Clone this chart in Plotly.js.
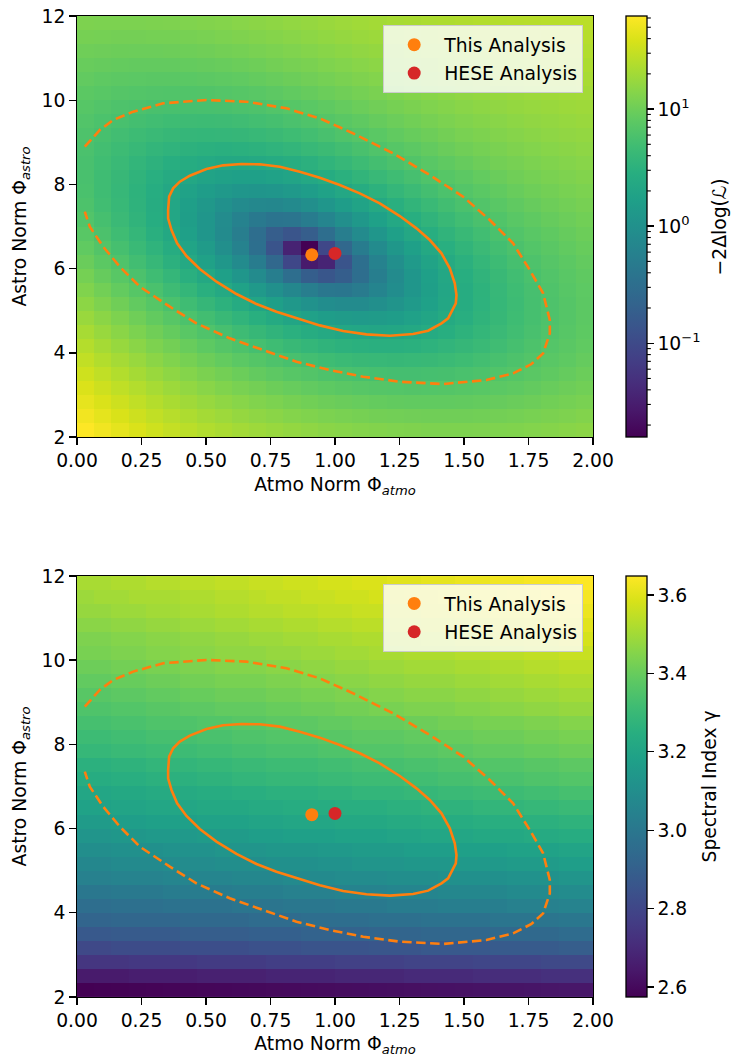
<!DOCTYPE html>
<html><head><meta charset="utf-8">
<script src="https://cdn.plot.ly/plotly-3.0.1.min.js"></script>
<style>html,body{margin:0;padding:0;background:#fff;} #chart{width:732px;height:1057px;}</style>
</head><body><div id="chart"></div>
<script>
// cell centres of the 30 x 30 scan grid
const atmoCenters = [0.0333,0.1,0.1667,0.2333,0.3,0.3667,0.4333,0.5,0.5667,0.6333,0.7,0.7667,0.8333,0.9,0.9667,1.0333,1.1,1.1667,1.2333,1.3,1.3667,1.4333,1.5,1.5667,1.6333,1.7,1.7667,1.8333,1.9,1.9667];
const astroCenters = [2.1667,2.5,2.8333,3.1667,3.5,3.8333,4.1667,4.5,4.8333,5.1667,5.5,5.8333,6.1667,6.5,6.8333,7.1667,7.5,7.8333,8.1667,8.5,8.8333,9.1667,9.5,9.8333,10.1667,10.5,10.8333,11.1667,11.5,11.8333];

// -2 Delta log(L), rows = astro (bottom to top), cols = atmo (left to right)
const llh = [
[62.5,53.1,45.4,39.2,34.1,30.0,26.7,24.0,21.9,20.1,18.6,17.4,16.3,15.5,14.7,14.1,13.6,13.2,12.8,12.6,12.4,12.4,12.4,12.5,12.7,12.9,13.3,13.7,14.3,14.8],
[53.9,45.7,39.0,33.6,29.2,25.6,22.8,20.4,18.5,16.9,15.6,14.6,13.6,12.9,12.2,11.7,11.2,10.8,10.6,10.4,10.3,10.3,10.3,10.5,10.7,11.1,11.5,12.0,12.5,13.2],
[46.3,39.2,33.4,28.7,24.9,21.8,19.3,17.2,15.6,14.2,13.0,12.1,11.2,10.5,9.95,9.47,9.08,8.78,8.56,8.43,8.39,8.43,8.56,8.77,9.07,9.46,9.92,10.5,11.1,11.7],
[39.7,33.5,28.5,24.4,21.1,18.4,16.2,14.4,12.9,11.7,10.7,9.83,9.09,8.48,7.96,7.54,7.21,6.96,6.80,6.73,6.75,6.85,7.03,7.30,7.66,8.10,8.61,9.19,9.84,10.5],
[34.0,28.6,24.2,20.6,17.8,15.4,13.5,12.0,10.7,9.57,8.65,7.88,7.22,6.67,6.22,5.86,5.58,5.40,5.30,5.28,5.35,5.51,5.76,6.08,6.49,6.98,7.54,8.17,8.86,9.60],
[29.0,24.3,20.5,17.4,14.9,12.9,11.2,9.82,8.66,7.69,6.87,6.18,5.59,5.11,4.72,4.42,4.20,4.07,4.03,4.07,4.20,4.41,4.71,5.10,5.56,6.10,6.71,7.37,8.10,8.86],
[24.7,20.6,17.3,14.6,12.4,10.7,9.19,7.96,6.93,6.06,5.33,4.71,4.20,3.77,3.44,3.20,3.04,2.97,2.98,3.08,3.27,3.54,3.90,4.33,4.85,5.43,6.08,6.79,7.54,8.33],
[21.0,17.4,14.6,12.2,10.3,8.76,7.46,6.37,5.45,4.68,4.02,3.47,3.02,2.66,2.39,2.20,2.10,2.08,2.15,2.31,2.56,2.88,3.29,3.78,4.34,4.97,5.66,6.40,7.18,7.98],
[17.8,14.8,12.3,10.2,8.54,7.15,6.00,5.03,4.21,3.51,2.93,2.45,2.05,1.75,1.54,1.41,1.36,1.41,1.54,1.75,2.05,2.43,2.90,3.43,4.04,4.71,5.43,6.20,6.99,7.81],
[15.1,12.5,10.3,8.50,7.03,5.80,4.78,3.91,3.17,2.56,2.04,1.62,1.29,1.04,0.883,0.812,0.826,0.927,1.11,1.38,1.74,2.18,2.69,3.27,3.92,4.63,5.38,6.17,6.98,7.80],
[12.9,10.6,8.66,7.09,5.78,4.69,3.78,3.00,2.35,1.80,1.34,0.983,0.710,0.523,0.422,0.407,0.479,0.638,0.881,1.21,1.62,2.11,2.67,3.30,3.98,4.72,5.50,6.30,7.12,7.94],
[11.0,8.99,7.32,5.93,4.78,3.81,2.99,2.29,1.71,1.22,0.833,0.530,0.314,0.185,0.142,0.185,0.314,0.529,0.829,1.21,1.67,2.21,2.82,3.49,4.21,4.98,5.77,6.59,7.41,8.22],
[9.50,7.71,6.24,5.01,3.98,3.12,2.38,1.76,1.25,0.825,0.494,0.250,0.0915,0.028,0.036,0.135,0.321,0.593,0.948,1.38,1.90,2.48,3.13,3.84,4.59,5.38,6.19,7.01,7.83,8.63],
[8.27,6.70,5.40,4.31,3.39,2.62,1.96,1.41,0.958,0.596,0.323,0.136,0.0351,0.0158,0.0925,0.251,0.494,0.822,1.23,1.72,2.28,2.91,3.60,4.34,5.11,5.92,6.74,7.56,8.37,9.16],
[7.31,5.93,4.77,3.80,2.98,2.29,1.70,1.22,0.828,0.525,0.309,0.180,0.137,0.180,0.309,0.524,0.824,1.21,1.67,2.21,2.81,3.48,4.21,4.97,5.77,6.58,7.40,8.22,9.02,9.79],
[6.59,5.37,4.34,3.47,2.74,2.12,1.60,1.18,0.849,0.605,0.447,0.375,0.390,0.490,0.676,0.948,1.30,1.74,2.25,2.84,3.49,4.19,4.95,5.73,6.54,7.36,8.18,8.99,9.77,10.5],
[6.09,5.00,4.08,3.31,2.65,2.10,1.65,1.29,1.02,0.830,0.729,0.714,0.786,0.945,1.19,1.52,1.92,2.41,2.97,3.60,4.29,5.03,5.81,6.61,7.43,8.25,9.06,9.85,10.6,11.3],
[5.78,4.81,3.99,3.30,2.72,2.23,1.84,1.54,1.32,1.19,1.15,1.19,1.32,1.54,1.84,2.22,2.68,3.22,3.83,4.50,5.22,5.98,6.78,7.60,8.42,9.23,10.0,10.8,11.5,12.2],
[5.65,4.78,4.05,3.43,2.91,2.49,2.16,1.92,1.76,1.68,1.70,1.80,1.99,2.26,2.61,3.05,3.56,4.15,4.80,5.50,6.26,7.04,7.85,8.67,9.49,10.3,11.1,11.8,12.5,13.2],
[5.67,4.90,4.24,3.69,3.24,2.88,2.61,2.42,2.32,2.30,2.37,2.53,2.78,3.10,3.51,4.00,4.56,5.19,5.88,6.62,7.40,8.20,9.02,9.84,10.7,11.4,12.2,12.9,13.6,14.2],
[5.84,5.15,4.56,4.08,3.69,3.39,3.17,3.04,3.00,3.04,3.17,3.38,3.68,4.07,4.53,5.07,5.68,6.34,7.07,7.83,8.63,9.44,10.3,11.1,11.9,12.6,13.4,14.1,14.7,15.3],
[6.14,5.52,5.01,4.58,4.25,4.01,3.85,3.78,3.79,3.89,4.08,4.35,4.71,5.14,5.66,6.24,6.89,7.60,8.35,9.14,9.95,10.8,11.6,12.4,13.2,13.9,14.6,15.3,15.9,16.4],
[6.56,6.01,5.56,5.20,4.93,4.74,4.64,4.62,4.70,4.85,5.10,5.43,5.83,6.32,6.88,7.51,8.20,8.94,9.72,10.5,11.3,12.2,13.0,13.8,14.5,15.2,15.9,16.5,17.1,17.6],
[7.10,6.61,6.22,5.92,5.70,5.57,5.53,5.57,5.70,5.92,6.22,6.60,7.06,7.60,8.21,8.88,9.60,10.4,11.2,12.0,12.8,13.6,14.4,15.2,15.9,16.6,17.2,17.8,18.3,18.8],
[7.73,7.31,6.98,6.74,6.58,6.50,6.52,6.62,6.81,7.08,7.43,7.87,8.38,8.97,9.62,10.3,11.1,11.9,12.7,13.5,14.3,15.1,15.9,16.6,17.3,18.0,18.6,19.1,19.6,20.0],
[8.47,8.11,7.83,7.65,7.55,7.53,7.60,7.76,8.01,8.33,8.74,9.23,9.79,10.4,11.1,11.8,12.6,13.4,14.2,15.1,15.9,16.7,17.4,18.1,18.8,19.4,20.0,20.5,20.9,21.3],
[9.29,8.99,8.77,8.65,8.60,8.65,8.77,8.99,9.29,9.67,10.1,10.7,11.3,11.9,12.7,13.4,14.2,15.0,15.9,16.7,17.5,18.3,19.0,19.7,20.3,20.9,21.4,21.9,22.3,22.6],
[10.2,9.97,9.81,9.74,9.75,9.85,10.0,10.3,10.7,11.1,11.6,12.2,12.8,13.6,14.3,15.1,15.9,16.7,17.5,18.3,19.1,19.9,20.6,21.2,21.8,22.4,22.8,23.3,23.6,23.9],
[11.2,11.0,10.9,10.9,11.0,11.1,11.4,11.7,12.1,12.6,13.2,13.8,14.5,15.2,16.0,16.8,17.6,18.4,19.3,20.0,20.8,21.5,22.2,22.8,23.4,23.9,24.3,24.7,25.0,25.3],
[12.3,12.1,12.1,12.1,12.3,12.5,12.8,13.2,13.6,14.2,14.8,15.4,16.2,16.9,17.7,18.5,19.4,20.2,21.0,21.8,22.5,23.2,23.8,24.4,24.9,25.4,25.8,26.1,26.4,26.6]
];

// profiled spectral index gamma on the same grid
const gammaIdx = [
[2.575,2.577,2.579,2.582,2.584,2.586,2.588,2.591,2.593,2.595,2.597,2.600,2.602,2.604,2.606,2.609,2.611,2.613,2.615,2.618,2.620,2.622,2.624,2.627,2.629,2.631,2.633,2.636,2.638,2.640],
[2.65,2.65,2.65,2.66,2.66,2.66,2.66,2.67,2.67,2.67,2.67,2.68,2.68,2.68,2.68,2.69,2.69,2.69,2.69,2.70,2.70,2.70,2.70,2.71,2.71,2.71,2.71,2.72,2.72,2.72],
[2.74,2.74,2.74,2.75,2.75,2.75,2.75,2.76,2.76,2.76,2.76,2.77,2.77,2.77,2.77,2.78,2.78,2.78,2.78,2.79,2.79,2.79,2.79,2.80,2.80,2.80,2.80,2.81,2.81,2.81],
[2.81,2.81,2.82,2.82,2.82,2.82,2.83,2.83,2.83,2.83,2.84,2.84,2.84,2.85,2.85,2.85,2.85,2.86,2.86,2.86,2.87,2.87,2.87,2.87,2.88,2.88,2.88,2.88,2.89,2.89],
[2.87,2.87,2.88,2.88,2.88,2.88,2.89,2.89,2.89,2.89,2.90,2.90,2.90,2.91,2.91,2.91,2.91,2.92,2.92,2.92,2.93,2.93,2.93,2.93,2.94,2.94,2.94,2.94,2.95,2.95],
[2.92,2.92,2.93,2.93,2.93,2.93,2.94,2.94,2.94,2.94,2.95,2.95,2.95,2.96,2.96,2.96,2.96,2.97,2.97,2.97,2.98,2.98,2.98,2.98,2.99,2.99,2.99,2.99,3.00,3.00],
[2.96,2.96,2.97,2.97,2.97,2.98,2.98,2.98,2.98,2.99,2.99,2.99,3.00,3.00,3.00,3.01,3.01,3.01,3.02,3.02,3.02,3.03,3.03,3.03,3.03,3.04,3.04,3.04,3.05,3.05],
[3.00,3.00,3.01,3.01,3.01,3.02,3.02,3.02,3.02,3.03,3.03,3.03,3.04,3.04,3.04,3.05,3.05,3.05,3.06,3.06,3.06,3.07,3.07,3.07,3.07,3.08,3.08,3.08,3.09,3.09],
[3.04,3.04,3.05,3.05,3.05,3.06,3.06,3.06,3.06,3.07,3.07,3.07,3.08,3.08,3.08,3.09,3.09,3.09,3.10,3.10,3.10,3.11,3.11,3.11,3.11,3.12,3.12,3.12,3.13,3.13],
[3.07,3.07,3.08,3.08,3.08,3.09,3.09,3.09,3.10,3.10,3.10,3.11,3.11,3.11,3.12,3.12,3.13,3.13,3.13,3.14,3.14,3.14,3.15,3.15,3.15,3.16,3.16,3.16,3.17,3.17],
[3.10,3.10,3.11,3.11,3.11,3.12,3.12,3.12,3.13,3.13,3.13,3.14,3.14,3.14,3.15,3.15,3.16,3.16,3.16,3.17,3.17,3.17,3.18,3.18,3.18,3.19,3.19,3.19,3.20,3.20],
[3.13,3.13,3.14,3.14,3.15,3.15,3.15,3.16,3.16,3.16,3.17,3.17,3.18,3.18,3.18,3.19,3.19,3.19,3.20,3.20,3.21,3.21,3.21,3.22,3.22,3.22,3.23,3.23,3.24,3.24],
[3.16,3.16,3.17,3.17,3.18,3.18,3.18,3.19,3.19,3.19,3.20,3.20,3.21,3.21,3.21,3.22,3.22,3.22,3.23,3.23,3.24,3.24,3.24,3.25,3.25,3.25,3.26,3.26,3.27,3.27],
[3.19,3.19,3.20,3.20,3.21,3.21,3.21,3.22,3.22,3.22,3.23,3.23,3.24,3.24,3.24,3.25,3.25,3.25,3.26,3.26,3.27,3.27,3.27,3.28,3.28,3.28,3.29,3.29,3.30,3.30],
[3.21,3.21,3.22,3.22,3.23,3.23,3.23,3.24,3.24,3.25,3.25,3.26,3.26,3.26,3.27,3.27,3.28,3.28,3.28,3.29,3.29,3.30,3.30,3.31,3.31,3.31,3.32,3.32,3.33,3.33],
[3.24,3.24,3.25,3.25,3.26,3.26,3.26,3.27,3.27,3.28,3.28,3.29,3.29,3.29,3.30,3.30,3.31,3.31,3.31,3.32,3.32,3.33,3.33,3.34,3.34,3.34,3.35,3.35,3.36,3.36],
[3.26,3.26,3.27,3.27,3.28,3.28,3.28,3.29,3.29,3.30,3.30,3.31,3.31,3.31,3.32,3.32,3.33,3.33,3.33,3.34,3.34,3.35,3.35,3.36,3.36,3.36,3.37,3.37,3.38,3.38],
[3.29,3.29,3.30,3.30,3.31,3.31,3.31,3.32,3.32,3.33,3.33,3.34,3.34,3.34,3.35,3.35,3.36,3.36,3.36,3.37,3.37,3.38,3.38,3.39,3.39,3.39,3.40,3.40,3.41,3.41],
[3.31,3.31,3.32,3.32,3.33,3.33,3.33,3.34,3.34,3.35,3.35,3.36,3.36,3.36,3.37,3.37,3.38,3.38,3.38,3.39,3.39,3.40,3.40,3.41,3.41,3.41,3.42,3.42,3.43,3.43],
[3.33,3.33,3.34,3.34,3.35,3.35,3.35,3.36,3.36,3.37,3.37,3.38,3.38,3.38,3.39,3.39,3.40,3.40,3.40,3.41,3.41,3.42,3.42,3.43,3.43,3.43,3.44,3.44,3.45,3.45],
[3.35,3.35,3.36,3.36,3.37,3.37,3.38,3.38,3.39,3.39,3.39,3.40,3.40,3.41,3.41,3.42,3.42,3.43,3.43,3.44,3.44,3.44,3.45,3.45,3.46,3.46,3.47,3.47,3.48,3.48],
[3.37,3.37,3.38,3.38,3.39,3.39,3.40,3.40,3.41,3.41,3.41,3.42,3.42,3.43,3.43,3.44,3.44,3.45,3.45,3.46,3.46,3.46,3.47,3.47,3.48,3.48,3.49,3.49,3.50,3.50],
[3.39,3.39,3.40,3.40,3.41,3.41,3.42,3.42,3.43,3.43,3.43,3.44,3.44,3.45,3.45,3.46,3.46,3.47,3.47,3.48,3.48,3.48,3.49,3.49,3.50,3.50,3.51,3.51,3.52,3.52],
[3.41,3.41,3.42,3.42,3.43,3.43,3.44,3.44,3.45,3.45,3.45,3.46,3.46,3.47,3.47,3.48,3.48,3.49,3.49,3.50,3.50,3.50,3.51,3.51,3.52,3.52,3.53,3.53,3.54,3.54],
[3.43,3.43,3.44,3.44,3.45,3.45,3.46,3.46,3.47,3.47,3.47,3.48,3.48,3.49,3.49,3.50,3.50,3.51,3.51,3.52,3.52,3.52,3.53,3.53,3.54,3.54,3.55,3.55,3.56,3.56],
[3.44,3.44,3.45,3.45,3.46,3.46,3.47,3.47,3.48,3.48,3.49,3.49,3.50,3.50,3.51,3.51,3.52,3.52,3.53,3.53,3.54,3.54,3.55,3.55,3.56,3.56,3.57,3.57,3.58,3.58],
[3.46,3.46,3.47,3.47,3.48,3.48,3.49,3.49,3.50,3.50,3.51,3.51,3.52,3.52,3.53,3.53,3.54,3.54,3.55,3.55,3.56,3.56,3.57,3.57,3.58,3.58,3.59,3.59,3.60,3.60],
[3.48,3.48,3.49,3.49,3.50,3.50,3.51,3.51,3.52,3.52,3.53,3.53,3.54,3.54,3.55,3.55,3.56,3.56,3.57,3.57,3.58,3.58,3.59,3.59,3.60,3.60,3.61,3.61,3.62,3.62],
[3.49,3.50,3.50,3.51,3.51,3.51,3.52,3.52,3.53,3.53,3.54,3.55,3.55,3.56,3.56,3.57,3.57,3.58,3.58,3.59,3.59,3.60,3.60,3.61,3.61,3.62,3.62,3.63,3.63,3.635],
[3.51,3.51,3.52,3.52,3.53,3.53,3.54,3.54,3.55,3.55,3.56,3.56,3.57,3.57,3.58,3.58,3.59,3.59,3.60,3.60,3.61,3.61,3.62,3.62,3.63,3.63,3.64,3.64,3.645,3.648]
];

// 1 sigma (solid) and 2 sigma (dashed) contours
const sig1X = [0.3532,0.3571,0.3726,0.3984,0.4372,0.5018,0.5664,0.6375,0.7085,0.7860,0.8636,0.9411,1.0186,1.0961,1.1736,1.2512,1.3158,1.3674,1.4127,1.4450,1.4643,1.4708,1.4682,1.4385,1.4127,1.3610,1.3028,1.2124,1.1220,1.0315,0.9411,0.8506,0.7731,0.6956,0.6181,0.5406,0.4760,0.4243,0.3881,0.3662,0.3532,0.3532];
const sig1Y = [7.392,7.709,7.907,8.065,8.207,8.366,8.453,8.485,8.477,8.421,8.302,8.160,7.986,7.788,7.550,7.249,6.956,6.679,6.363,6.006,5.650,5.373,5.175,4.819,4.700,4.526,4.447,4.407,4.439,4.518,4.652,4.819,4.977,5.159,5.397,5.690,5.990,6.299,6.600,6.917,7.194,7.392];
const sig2X = [0.0302,0.0884,0.1401,0.2176,0.3339,0.5018,0.6568,0.8119,0.9411,1.0703,1.2253,1.3674,1.4966,1.6000,1.6904,1.7550,1.8067,1.8326,1.8326,1.8067,1.7615,1.6904,1.5871,1.4191,1.2512,1.1090,0.9798,0.8506,0.7214,0.5922,0.4630,0.3597,0.2434,0.1659,0.1013,0.0496,0.0302];
const sig2Y = [8.896,9.292,9.530,9.728,9.926,10.005,9.965,9.807,9.569,9.213,8.738,8.223,7.709,7.154,6.600,5.967,5.413,4.779,4.462,3.987,3.734,3.512,3.354,3.259,3.314,3.433,3.591,3.789,4.067,4.344,4.700,5.096,5.571,6.046,6.521,6.996,7.352];

// best-fit points
const thisFit = {name: 'This Analysis', atmo: [0.91], astro: [6.33], color: '#ff7f0e'};
const heseFit = {name: 'HESE Analysis', atmo: [1.0], astro: [6.36], color: '#d62728'};

// colour bar ticks
const llhRange = [0.0158, 62.4];
const llhMajor = [0.1, 1, 10];
const llhMajorText = ['10<sup>\u22121</sup>', '10<sup>0</sup>', '10<sup>1</sup>'];
const llhMinorMult = [2,3,4,5,6,7,8,9];
const llhMinorDecades = [0.01, 0.1, 1, 10];
const gammaRange = [2.5745, 3.6485];
const gammaTicks = [2.6, 2.8, 3.0, 3.2, 3.4, 3.6];

const FONT = 'DejaVu Sans';
const FS = 18.75;
const ORANGE = '#ff7f0e';

const topDomain = [0.5708, 1.0];
const botDomain = [0.0, 0.4292];
const CB_X = 1.064;          // colour bar left edge (paper)
const CB_RIGHT = 1.1047;     // colour bar right edge (paper)

const logLLH = llh.map(r => r.map(v => Math.log10(v)));
const lmin = Math.log10(llhRange[0]), lmax = Math.log10(llhRange[1]);

// minor ticks of the log colour bar, drawn as short shapes
const shapes = [];
llhMinorDecades.forEach(d => llhMinorMult.forEach(m => {
  const v = m * d;
  if (v >= llhRange[0] && v <= llhRange[1]) {
    const yp = topDomain[0] + (Math.log10(v) - lmin) / (lmax - lmin) * (topDomain[1] - topDomain[0]);
    shapes.push({type: 'line', xref: 'paper', yref: 'paper', xsizemode: 'pixel', xanchor: CB_RIGHT,
      x0: 0, x1: 3.8, y0: yp, y1: yp, line: {color: '#000', width: 1.1}});
  }
}));

function cbar(extra) {
  return Object.assign({
    x: CB_X, xanchor: 'left', xpad: 0, ypad: 0,
    thickness: 21, thicknessmode: 'pixels',
    len: 0.4292, lenmode: 'fraction', yanchor: 'top',
    outlinewidth: 1.3, outlinecolor: '#000',
    ticks: 'outside', ticklen: 6.5, tickwidth: 1.3, tickcolor: '#000',
    tickfont: {family: FONT, size: FS, color: '#000'},
  }, extra);
}

const traces = [];
function panel(xa, ya, z, zmin, zmax, colorbar, legendName) {
  traces.push({type: 'heatmap', x: atmoCenters, y: astroCenters, z: z, zmin: zmin, zmax: zmax,
    colorscale: 'Viridis', zsmooth: false, xaxis: xa, yaxis: ya, colorbar: colorbar, hoverinfo: 'skip', showlegend: false});
  traces.push({type: 'scatter', mode: 'lines', x: sig1X, y: sig1Y, xaxis: xa, yaxis: ya,
    line: {color: ORANGE, width: 2.6}, showlegend: false, hoverinfo: 'skip'});
  traces.push({type: 'scatter', mode: 'lines', x: sig2X, y: sig2Y, xaxis: xa, yaxis: ya,
    line: {color: ORANGE, width: 2.6, dash: '9.5px,4.5px'}, showlegend: false, hoverinfo: 'skip'});
  [thisFit, heseFit].forEach(p => traces.push({type: 'scatter', mode: 'markers', name: p.name,
    x: p.atmo, y: p.astro, xaxis: xa, yaxis: ya, legend: legendName, legendgroup: legendName + p.name,
    marker: {color: p.color, size: 13, line: {width: 0}}, hoverinfo: 'skip'}));
}

panel('x', 'y', logLLH, lmin, lmax,
  cbar({y: topDomain[1], tickmode: 'array', tickvals: llhMajor.map(v => Math.log10(v)), ticktext: llhMajorText}),
  'legend');
panel('x2', 'y2', gammaIdx, gammaRange[0], gammaRange[1],
  cbar({y: botDomain[1], tickmode: 'array', tickvals: gammaTicks, ticktext: gammaTicks.map(v => v.toFixed(1))}),
  'legend2');

function xax(anchor) {
  return {anchor: anchor, domain: [0, 1], range: [0, 2], tickmode: 'linear', tick0: 0, dtick: 0.25, tickformat: '.2f',
    ticks: 'outside', ticklen: 6.5, tickwidth: 1.4, tickcolor: '#000',
    showline: true, linewidth: 1.4, linecolor: '#000', mirror: true, showgrid: false, zeroline: false,
    tickfont: {family: FONT, size: FS, color: '#000'},
    title: {text: 'Atmo Norm \u03a6<sub><i>atmo</i></sub>', font: {family: FONT, size: FS, color: '#000'}, standoff: 7}};
}
function yax(anchor, domain) {
  return {anchor: anchor, domain: domain, range: [2, 12], tickmode: 'linear', tick0: 2, dtick: 2,
    ticks: 'outside', ticklen: 6.5, tickwidth: 1.4, tickcolor: '#000',
    showline: true, linewidth: 1.4, linecolor: '#000', mirror: true, showgrid: false, zeroline: false,
    tickfont: {family: FONT, size: FS, color: '#000'},
    title: {text: 'Astro Norm \u03a6<sub><i>astro</i></sub>', font: {family: FONT, size: FS, color: '#000'}, standoff: 10}};
}
function leg(ytop) {
  return {x: 0.981, xanchor: 'right', y: ytop, yanchor: 'top',
    bgcolor: 'rgba(255,255,255,0.8)', bordercolor: '#cccccc', borderwidth: 1,
    font: {family: FONT, size: FS, color: '#000'}, itemwidth: 50, tracegroupgap: 1};
}

// colour bar labels, placed to the right of the tick labels
const cbTitleX = [1.2461, 1.2248];
const annotations = [
  {text: '\u22122\u0394log(\u2112)', xref: 'paper', yref: 'paper', x: cbTitleX[0], y: (topDomain[0] + topDomain[1]) / 2,
   xanchor: 'center', yanchor: 'middle', textangle: -90, showarrow: false, font: {family: FONT, size: FS, color: '#000'}},
  {text: 'Spectral Index \u03b3', xref: 'paper', yref: 'paper', x: cbTitleX[1], y: (botDomain[0] + botDomain[1]) / 2,
   xanchor: 'center', yanchor: 'middle', textangle: -90, showarrow: false, font: {family: FONT, size: FS, color: '#000'}}
];

const layout = {
  width: 732, height: 1057,
  margin: {l: 77, r: 139, t: 16, b: 60},
  paper_bgcolor: '#fff', plot_bgcolor: '#fff',
  font: {family: FONT, size: FS, color: '#000'},
  xaxis: xax('y'), yaxis: yax('x', topDomain),
  xaxis2: xax('y2'), yaxis2: yax('x2', botDomain),
  legend: leg(0.9908), legend2: leg(0.4213),
  shapes: shapes, annotations: annotations,
  showlegend: true
};

Plotly.newPlot('chart', traces, layout, {displayModeBar: false, staticPlot: true});
</script>
</body></html>
